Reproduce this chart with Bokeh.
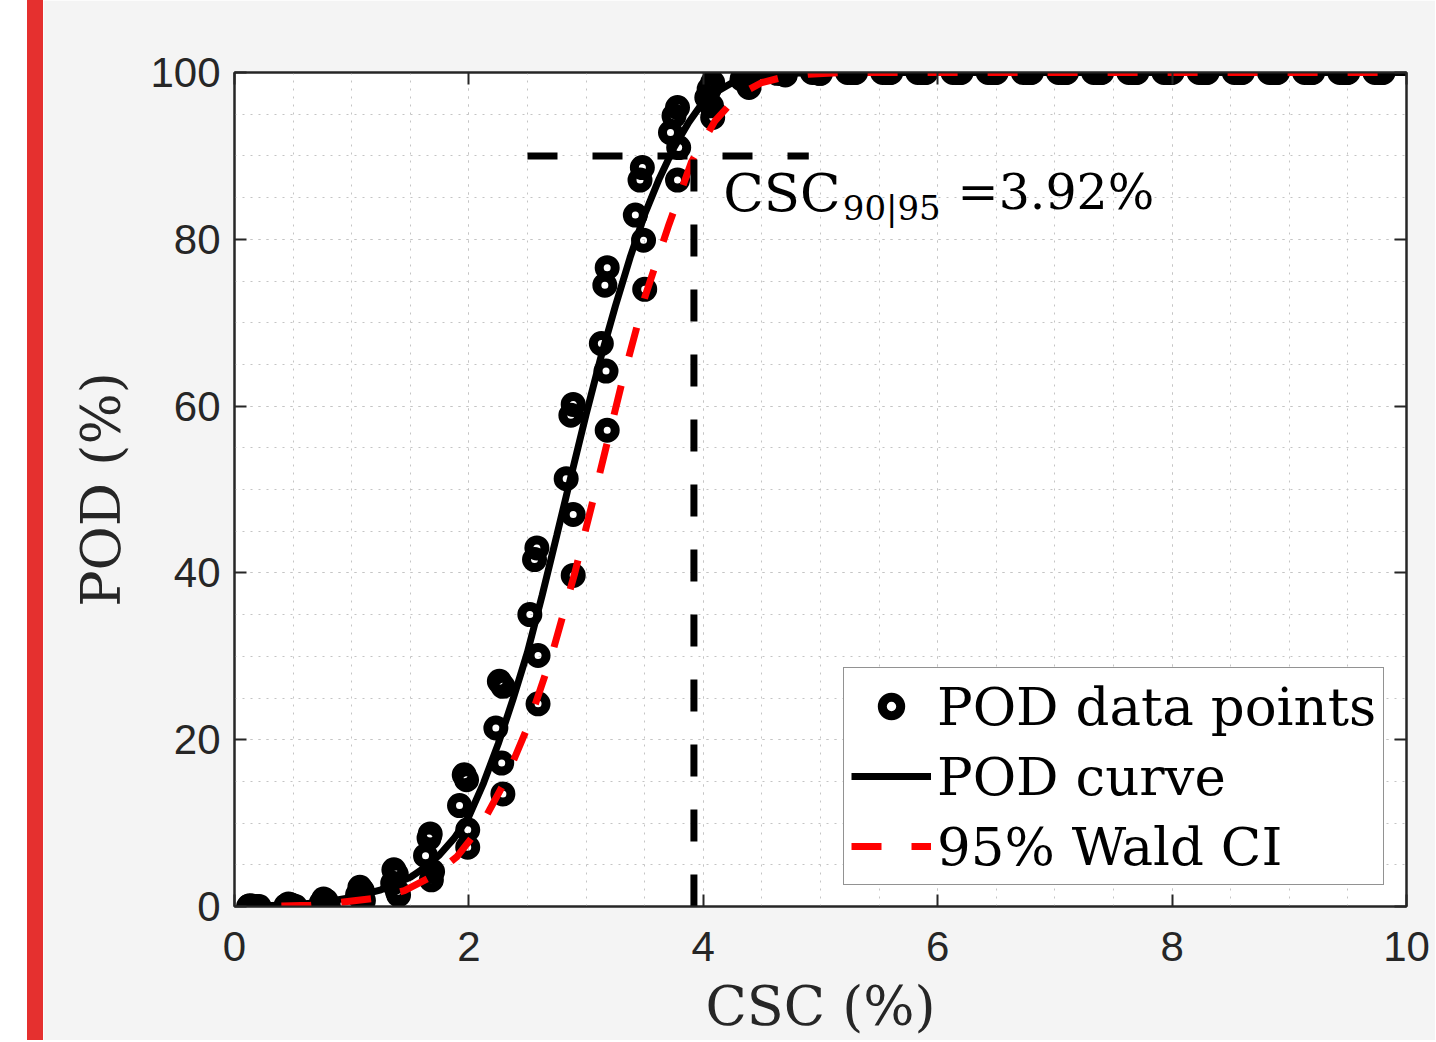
from bokeh.plotting import figure
from bokeh.models import (Legend, LegendItem, Label, SingleIntervalTicker, LinearAxis,
                          CustomJSTickFormatter, Range1d, Div, Spacer)
from bokeh.layouts import row
from bokeh.embed import file_html
from bokeh.resources import INLINE

# ---- POD data points (CSC %, POD %) ----
pod_x = [0.13, 0.15, 0.12, 0.19, 0.21,
         0.46, 0.48, 0.44, 0.50, 0.52,
         0.76, 0.78, 0.74, 0.79, 0.80,
         1.07, 1.09, 1.05, 1.09, 1.10,
         1.36, 1.38, 1.35, 1.39, 1.40,
         1.67, 1.66, 1.63, 1.69, 1.68,
         1.96, 1.98, 1.92, 1.99, 1.99,
         2.26, 2.29, 2.23, 2.28, 2.29,
         2.58, 2.56, 2.52, 2.59, 2.59,
         2.89, 2.87, 2.83, 2.89, 2.89,
         3.18, 3.16, 3.13, 3.17, 3.18,
         3.48, 3.46, 3.42, 3.49, 3.50,
         3.78, 3.75, 3.72, 3.79, 3.78,
         4.08, 4.05, 4.03, 4.07, 4.08,
         4.38, 4.36, 4.33, 4.38, 4.39,
         4.68, 4.66, 4.63, 4.69, 4.70,
         4.98, 4.96, 4.93, 4.99, 5.00,
         5.28, 5.26, 5.23, 5.29, 5.30,
         5.58, 5.56, 5.53, 5.59, 5.60,
         5.88, 5.86, 5.83, 5.89, 5.90,
         6.18, 6.16, 6.13, 6.19, 6.20,
         6.48, 6.46, 6.43, 6.49, 6.50,
         6.78, 6.76, 6.73, 6.79, 6.80,
         7.08, 7.06, 7.03, 7.09, 7.10,
         7.38, 7.36, 7.33, 7.39, 7.40,
         7.68, 7.66, 7.63, 7.69, 7.70,
         7.98, 7.96, 7.93, 7.99, 8.00,
         8.28, 8.26, 8.23, 8.29, 8.30,
         8.58, 8.56, 8.53, 8.59, 8.60,
         8.88, 8.86, 8.83, 8.89, 8.90,
         9.18, 9.16, 9.13, 9.19, 9.20,
         9.48, 9.46, 9.43, 9.49, 9.50,
         9.78, 9.76, 9.73, 9.79, 9.80]
pod_y = [0.1, 0.05, 0.0, 0.0, 0.0,
         0.3, 0.2, 0.1, 0.05, 0.0,
         0.9, 0.7, 0.4, 0.2, 0.1,
         2.3, 1.9, 1.4, 0.9, 0.7,
         4.4, 3.9, 2.8, 1.8, 1.4,
         8.7, 8.2, 6.1, 4.2, 3.2,
         15.8, 15.2, 12.1, 9.2, 7.1,
         27.0, 26.4, 21.4, 17.2, 13.5,
         43.0, 41.6, 35.0, 30.1, 24.3,
         60.2, 58.9, 51.3, 47.0, 39.7,
         76.6, 74.5, 67.5, 64.2, 57.1,
         88.6, 87.1, 82.9, 79.9, 74.0,
         95.8, 94.8, 92.8, 91.0, 87.1,
         98.8, 98.0, 97.0, 96.0, 94.6,
         99.8, 99.6, 99.2, 98.8, 98.2,
         100.0, 99.9, 99.9, 99.8, 99.7,
         100.0, 100.0, 100.0, 99.9, 99.9,
         100.0, 100.0, 100.0, 100.0, 100.0,
         100.0, 100.0, 100.0, 100.0, 100.0,
         100.0, 100.0, 100.0, 100.0, 100.0,
         100.0, 100.0, 100.0, 100.0, 100.0,
         100.0, 100.0, 100.0, 100.0, 100.0,
         100.0, 100.0, 100.0, 100.0, 100.0,
         100.0, 100.0, 100.0, 100.0, 100.0,
         100.0, 100.0, 100.0, 100.0, 100.0,
         100.0, 100.0, 100.0, 100.0, 100.0,
         100.0, 100.0, 100.0, 100.0, 100.0,
         100.0, 100.0, 100.0, 100.0, 100.0,
         100.0, 100.0, 100.0, 100.0, 100.0,
         100.0, 100.0, 100.0, 100.0, 100.0,
         100.0, 100.0, 100.0, 100.0, 100.0,
         100.0, 100.0, 100.0, 100.0, 100.0,
         100.0, 100.0, 100.0, 100.0, 100.0]

# ---- fitted POD curve ----
curve_x = [0.1, 0.25, 0.5, 0.75, 1.0, 1.25, 1.5, 1.625, 1.75, 1.875, 2.0, 2.125, 2.25,
           2.375, 2.5, 2.625, 2.75, 2.875, 3.0, 3.125, 3.25, 3.375, 3.5, 3.625, 3.75,
           3.875, 4.0, 4.125, 4.25, 4.375, 4.5, 4.75, 5.0, 5.5, 6.0, 7.0, 8.0, 9.0, 10.0]
curve_y = [0.03, 0.08, 0.2, 0.5, 1.1, 2.0, 3.5, 4.7, 6.2, 8.2, 10.8, 14.8, 19.5,
           24.8, 30.5, 37.3, 44.5, 51.8, 59.0, 65.8, 72.0, 77.8, 83.0, 87.3, 91.0,
           94.0, 96.5, 97.8, 98.8, 99.3, 99.6, 99.9, 100.0, 100.0, 100.0, 100.0, 100.0, 100.0, 100.0]

# ---- 95% Wald CI (lower bound) ----
ci_x = [0.4, 0.65, 0.9, 1.2, 1.45, 1.7, 1.9, 2.1, 2.3, 2.5, 2.7, 2.9, 3.1, 3.3, 3.5,
        3.7, 3.9, 4.1, 4.3, 4.5, 4.7, 4.9, 5.2, 6.0, 7.0, 8.0, 9.0, 10.0]
ci_y = [0.05, 0.15, 0.5, 1.0, 1.9, 3.7, 6.0, 9.6, 14.8, 21.5, 29.8, 39.8, 51.0, 62.5, 73.0,
        81.5, 89.3, 94.2, 97.3, 98.8, 99.5, 99.8, 100.0, 100.0, 100.0, 100.0, 100.0, 100.0]

csc_90_95 = 3.92
pod_target = 90.0
hline_x = [2.5, 4.9]
x_ticks_interval = 2
y_ticks_interval = 20

AX = "#262626"
SERIF = "DejaVu Serif"

p = figure(width=1392, height=1040, output_backend="svg", toolbar_location=None,
           x_range=Range1d(0, 10), y_range=Range1d(0, 100),
           min_border_left=191, min_border_right=29, min_border_top=72, min_border_bottom=132)
p.border_fill_color = "#f4f4f4"
p.background_fill_color = "white"
p.outline_line_color = AX
p.outline_line_width = 2

p.xaxis.ticker = SingleIntervalTicker(interval=x_ticks_interval, num_minor_ticks=4)
p.yaxis.ticker = SingleIntervalTicker(interval=y_ticks_interval, num_minor_ticks=4)
for ax in (p.xaxis[0], p.yaxis[0]):
    ax.axis_line_color = AX
    ax.axis_line_width = 2
    ax.major_tick_in = 12
    ax.major_tick_out = 0
    ax.major_tick_line_color = AX
    ax.major_tick_line_width = 2
    ax.minor_tick_line_color = None
    ax.major_label_text_font = "Liberation Sans"
    ax.major_label_text_font_size = "42px"
    ax.major_label_text_color = AX
    ax.axis_label_text_font = SERIF
    ax.axis_label_text_font_size = "54px"
    ax.axis_label_text_font_style = "normal"
    ax.axis_label_text_color = AX
p.xaxis.axis_label = "CSC (%)"
p.yaxis.axis_label = "POD (%)"
p.xaxis.major_label_standoff = 21
p.yaxis.major_label_standoff = 10
p.xaxis.axis_label_standoff = 11
p.yaxis.axis_label_standoff = 14

# box ticks on top/right
for loc, iv in (("right", y_ticks_interval), ("above", x_ticks_interval)):
    a = LinearAxis(ticker=SingleIntervalTicker(interval=iv, num_minor_ticks=4),
                   formatter=CustomJSTickFormatter(code="return ''"),
                   major_tick_in=12, major_tick_out=0, major_tick_line_color=AX,
                   major_tick_line_width=2, minor_tick_line_color=None,
                   axis_line_color=AX, axis_line_width=2, major_label_standoff=0)
    p.add_layout(a, loc)

for g in (p.xgrid[0], p.ygrid[0]):
    g.grid_line_color = "#c4c4c4"
    g.grid_line_dash = "2 6"
    g.grid_line_width = 1
    g.minor_grid_line_color = "#c4c4c4"
    g.minor_grid_line_dash = "2 6"
    g.minor_grid_line_width = 1

r_pts = p.scatter(pod_x, pod_y, marker="circle", size=16, fill_color=None,
                  line_color="black", line_width=9)
r_curve = p.line(curve_x, curve_y, line_color="black", line_width=7)
r_ci = p.line(ci_x, ci_y, line_color="#ff0000", line_width=7, line_dash="30 30")
p.line([csc_90_95, csc_90_95], [0, pod_target], line_color="black", line_width=7,
       line_dash="32 33")
p.line(hline_x, [pod_target, pod_target], line_color="black", line_width=7,
       line_dash="30 35")

p.add_layout(Label(x=4.17, y=85.65, text="CSC", text_font=SERIF, text_font_size="53px",
                   text_color="black", text_baseline="alphabetic"))
p.add_layout(Label(x=5.19, y=83.8, text="90|95", text_font=SERIF, text_font_size="34px",
                   text_color="black", text_baseline="alphabetic"))
p.add_layout(Label(x=6.17, y=85.65, text="=3.92%", text_font=SERIF, text_font_size="49px",
                   text_color="black", text_baseline="alphabetic"))

legend = Legend(items=[LegendItem(label="POD data points", renderers=[r_pts]),
                       LegendItem(label="POD curve", renderers=[r_curve]),
                       LegendItem(label="95% Wald CI", renderers=[r_ci])],
                location=(609, 21))
legend.label_text_font = SERIF
legend.label_text_font_size = "53px"
legend.label_text_color = "black"
legend.glyph_width = 80
legend.glyph_height = 46
legend.label_height = 62
legend.label_standoff = 6
legend.spacing = 8
legend.padding = 7
legend.margin = 0
legend.border_line_color = AX
legend.border_line_width = 1
legend.background_fill_color = "white"
legend.background_fill_alpha = 1
p.add_layout(legend)

red_bar = Div(text="", width=16, height=1040, margin=0,
              styles={"background-color": "#e5302f"})
layout = row(Spacer(width=27, height=1040), red_bar, p)

open("out.html", "w").write(file_html(layout, INLINE))
